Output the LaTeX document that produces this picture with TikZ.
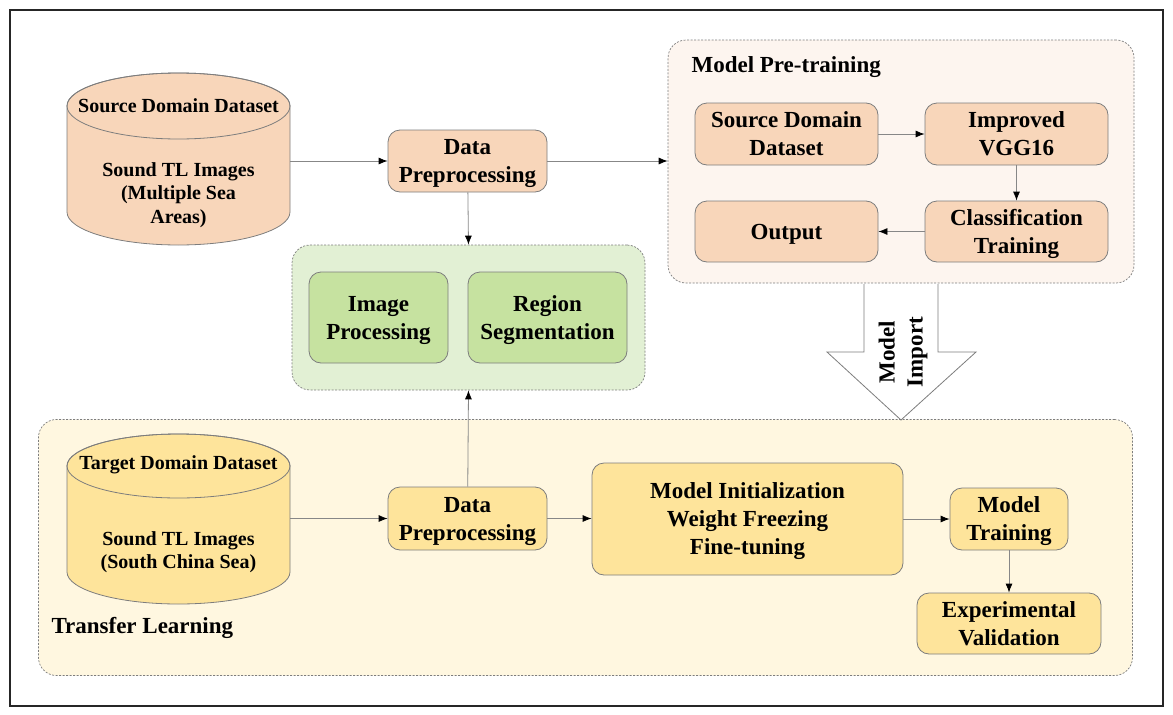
\documentclass[tikz,border=0pt]{standalone}
\usepackage{fontspec}
\setmainfont{Liberation Serif}
\usepackage{xcolor}
\definecolor{tlpeach}{RGB}{248,214,186}
\definecolor{tlpeachbg}{RGB}{253,245,239}
\definecolor{tlgreen}{RGB}{198,226,160}
\definecolor{tlgreenbg}{RGB}{226,240,212}
\definecolor{tlyellow}{RGB}{254,228,155}
\definecolor{tlyellowbg}{RGB}{255,247,224}
\definecolor{tledge}{RGB}{125,125,125}
\definecolor{tlline}{RGB}{135,135,135}
\usetikzlibrary{arrows.meta,positioning,shapes.geometric}
\tikzset{
  tbox/.style={draw=tledge,line width=0.8pt,rounded corners=12pt,align=center,inner sep=2pt,text depth=0pt,font=\bfseries\fontsize{23}{28}\selectfont},
  pbox/.style={tbox,fill=tlpeach},
  gbox/.style={tbox,fill=tlgreen},
  ybox/.style={tbox,fill=tlyellow},
  grp/.style={draw=tledge,line width=0.7pt,dash pattern=on 2pt off 1.5pt,rounded corners=18pt},
  dbnode/.style={minimum width=223pt,minimum height=172pt,inner sep=0pt},
  dbshape/.style={draw=tledge,line width=0.8pt},
  dblab/.style={align=center,font=\bfseries\fontsize{20}{23.5}\selectfont},
  ttl/.style={anchor=west,font=\bfseries\fontsize{23}{28}\selectfont},
  arr/.style={draw=tlline,line width=0.8pt,-{Latex[length=9pt,width=7pt,color=black]}},
}

\begin{document}
\begin{tikzpicture}[x=1pt,y=-1pt]
  \useasboundingbox (0,0) rectangle (1173,715);
  \draw[line width=1.3pt,draw=black!85] (10,10) rectangle (1163,706);

  % groups
  \node[grp,fill=tlpeachbg,minimum width=466pt,minimum height=243pt] (pretrain) at (901,161.5) {};
  \node[grp,fill=tlgreenbg,minimum width=353pt,minimum height=145pt] (procgrp) at (468.5,317.5) {};
  \node[grp,fill=tlyellowbg,minimum width=1094pt,minimum height=256pt] (transfer) at (585.5,547.5) {};
  \node[ttl] (pretitle) at (688,67) {Model Pre-training};
  \node[ttl] (tltitle) at (48,628) {Transfer Learning};

  % source side
  \filldraw[dbshape,fill=tlpeach] (67,106) -- (67,212) arc[start angle=180,end angle=0,x radius=111.5,y radius=33]
    -- (290,106) arc[start angle=0,end angle=-180,x radius=111.5,y radius=33] -- cycle;
  \draw[dbshape] (178.5,106) ellipse[x radius=111.5,y radius=33];
  \node[dbnode] (srcdb) at (178.5,159) {};
  \node[dblab] (srctop) at (178.5,106) {Source Domain Dataset};
  \node[dblab] (srcimg) at (178.5,195) {Sound TL Images\\(Multiple Sea\\Areas)};
  \node[pbox,minimum width=159pt,minimum height=62pt] (dp1) at (467.5,161) {Data\\Preprocessing};

  \node[pbox,minimum width=183pt,minimum height=62pt] (srcds) at (786.5,134) {Source Domain\\Dataset};
  \node[pbox,minimum width=183pt,minimum height=62pt] (vgg) at (1016.5,134) {Improved\\VGG16};
  \node[pbox,minimum width=183pt,minimum height=61pt] (out) at (786.5,231.5) {Output};
  \node[pbox,minimum width=183pt,minimum height=61pt] (cls) at (1016.5,231.5) {Classification\\Training};

  \node[gbox,minimum width=139pt,minimum height=91pt] (imgp) at (378.5,317.5) {Image\\Processing};
  \node[gbox,minimum width=159pt,minimum height=91pt] (regs) at (547.5,317.5) {Region\\Segmentation};

  % target side
  \filldraw[dbshape,fill=tlyellow] (67,466) -- (67,572) arc[start angle=180,end angle=0,x radius=111.5,y radius=32]
    -- (290,466) arc[start angle=0,end angle=-180,x radius=111.5,y radius=32] -- cycle;
  \draw[dbshape] (178.5,466) ellipse[x radius=111.5,y radius=32];
  \node[dbnode] (tgtdb) at (178.5,519) {};
  \node[dblab] (tgttop) at (178.5,465) {Target Domain Dataset};
  \node[dblab] (tgtimg) at (178.5,552) {Sound TL Images\\(South China Sea)};
  \node[ybox,minimum width=159pt,minimum height=63pt] (dp2) at (467.5,518.5) {Data\\Preprocessing};
  \node[ybox,minimum width=311pt,minimum height=112pt] (init) at (747.5,519) {Model Initialization\\Weight Freezing\\Fine-tuning};
  \node[ybox,minimum width=118pt,minimum height=62pt] (train) at (1009,519) {Model\\Training};
  \node[ybox,minimum width=184pt,minimum height=61pt] (valid) at (1009,623.5) {Experimental\\Validation};

  % model import
  \draw[draw=tledge,line width=0.8pt,fill=white] (864,284) -- (864,352) -- (827,352) -- (901,420) -- (976,352) -- (938,352) -- (938,284);
  \node[rotate=90,align=center,font=\bfseries\fontsize{23}{28}\selectfont] (mimport) at (903,352) {Model\\Import};

  % connectors
  \draw[arr] (srcdb.east |- dp1) -- (dp1);
  \draw[arr] (dp1) -- (pretrain.west |- dp1);
  \draw[arr] (srcds) -- (vgg);
  \draw[arr] (vgg) -- (cls);
  \draw[arr] (cls) -- (out);
  \draw[arr] (dp1) -- (procgrp.north);
  \draw[arr] (dp2) -- (procgrp.south);
  \draw[arr] (tgtdb.east |- dp2) -- (dp2);
  \draw[arr] (dp2) -- (init.west |- dp2);
  \draw[arr] (init) -- (train.west |- init);
  \draw[arr] (train) -- (valid);
\end{tikzpicture}
\end{document}
